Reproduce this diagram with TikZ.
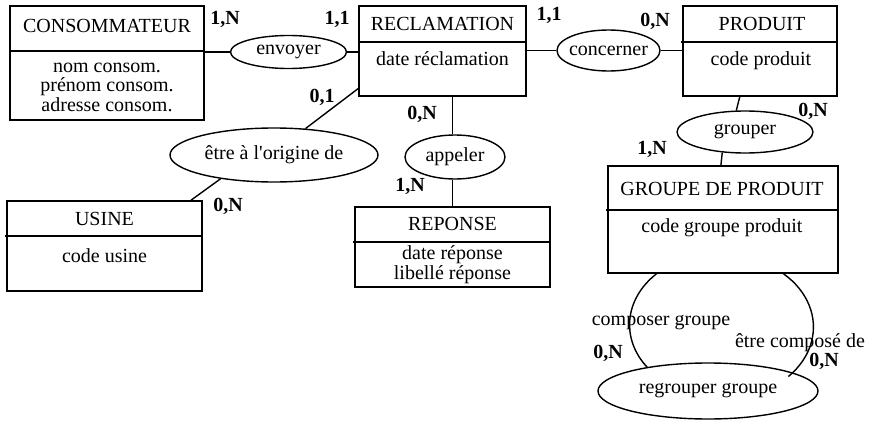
\documentclass[tikz,border=0pt]{standalone}
\usepackage{fontspec}
\setmainfont{Liberation Serif}
\usetikzlibrary{shapes.geometric,fit,calc}
\begin{document}
\begin{tikzpicture}[x=0.5pt,y=-0.5pt,line width=0.7pt,
  font=\fontsize{10}{10}\selectfont,
  entbox/.style={draw,inner sep=0pt},
  rel/.style={draw,ellipse,inner sep=0pt},
  txt/.style={inner sep=0pt},
  attr/.style={inner sep=0pt,anchor=base},
  card/.style={inner sep=0pt,text depth=0pt,font=\fontsize{10}{10}\selectfont\bfseries}]
\useasboundingbox (0,0) rectangle (874,428);

% ---------- entities ----------
\node[entbox,fit={(10,6) (204,120)}] (cons) {};
\draw (10,51) -- (204,51);
\node[txt] (cons-t) at (107,26) {CONSOMMATEUR};
\node[attr] (cons-a1) at (107,72) {nom consom.};
\node[attr] (cons-a2) at (107,91.5) {prénom consom.};
\node[attr] (cons-a3) at (107,111) {adresse consom.};

\node[entbox,fit={(359,6) (526,96)}] (recl) {};
\draw (359,42) -- (526,42);
\node[txt] (recl-t) at (442.5,23.5) {RECLAMATION};
\node[attr] (recl-a1) at (442.5,65) {date réclamation};

\node[entbox,fit={(683,6) (837,96)}] (prod) {};
\draw (681,42) -- (837,42);
\node[txt] (prod-t) at (762,23.5) {PRODUIT};
\node[attr] (prod-a1) at (761,65) {code produit};

\node[entbox,fit={(7,201) (202,291)}] (usine) {};
\draw (5,236) -- (202,236);
\node[txt] (usine-t) at (104.5,218.5) {USINE};
\node[attr] (usine-a1) at (104.5,262) {code usine};

\node[entbox,fit={(355,207) (550,287)}] (reponse) {};
\draw (353,242) -- (550,242);
\node[txt] (reponse-t) at (452.5,224) {REPONSE};
\node[attr] (reponse-a1) at (452.5,259.5) {date réponse};
\node[attr] (reponse-a2) at (452.5,279) {libellé réponse};

\node[entbox,fit={(608,166) (838,273)}] (grp) {};
\draw (606,210) -- (838,210);
\node[txt] (grp-t) at (722,189) {GROUPE DE PRODUIT};
\node[attr] (grp-a1) at (722,232) {code groupe produit};

% ---------- relationships ----------
\node[rel,minimum width=58pt,minimum height=16.5pt,label={center:envoyer}] (env) at (288.5,52) {};
\node[rel,minimum width=51.5pt,minimum height=20.5pt,label={center:concerner}] (conc) at (608.5,50.5) {};
\node[rel,minimum width=104pt,minimum height=27pt,label={center:être à l\textquotesingle origine de}] (orig) at (274,155) {};
\node[rel,minimum width=50pt,minimum height=22pt,label={center:appeler}] (app) at (455,157) {};
\node[rel,minimum width=68pt,minimum height=21pt,label={center:grouper}] (grouper) at (745,132) {};
\node[rel,minimum width=110pt,minimum height=28pt,label={center:regrouper groupe}] (regr) at (708,391) {};

% ---------- connectors ----------
\draw (cons.east |- env.west) -- (env.west);
\draw (env.east) -- (env.east -| recl.west);
\draw (recl.east |- conc.west) -- (conc.west);
\draw (conc.east) -- (conc.east -| prod.west);
\draw (orig.40) -- ($(recl.south west)!0.09!(recl.north west)$);
\draw (orig.204) -- ($(usine.north west)!0.94!(usine.north east)$);
\draw (reponse.north |- recl.south) -- (reponse.north |- app.north);
\draw (reponse.north |- app.south) -- (reponse.north);
\draw ($(prod.south west)!0.37!(prod.south east)$) -- (grouper.112);
\draw (grouper.222) -- ($(grp.north west)!0.491!(grp.north east)$);
\coordinate (lp1) at ($(grp.south west)!0.213!(grp.south east)$);
\coordinate (lp2) at ($(grp.south west)!0.761!(grp.south east)$);
\draw (lp1) arc[start angle=134.8,end angle=216.6,x radius=45.75pt,y radius=36pt];
\draw (lp2) arc[start angle=47.8,end angle=-43.4,x radius=45.75pt,y radius=36pt];

% ---------- cardinalities ----------
\node[card] (c1) at (225,18) {1,N};
\node[card] (c2) at (337,18) {1,1};
\node[card] (c3) at (549,14) {1,1};
\node[card] (c4) at (655,20) {0,N};
\node[card] (c5) at (322,96) {0,1};
\node[card] (c6) at (422,113) {0,N};
\node[card] (c7) at (410,185) {1,N};
\node[card] (c8) at (228,205) {0,N};
\node[card] (c9) at (813,110) {0,N};
\node[card] (c10) at (652,148) {1,N};
\node[card] (c11) at (608,352) {0,N};
\node[card] (c12) at (824,360) {0,N};
\node[txt] (l1) at (661,323) {composer groupe};
\node[txt] (l2) at (800,343) {être composé de};
\end{tikzpicture}
\end{document}
